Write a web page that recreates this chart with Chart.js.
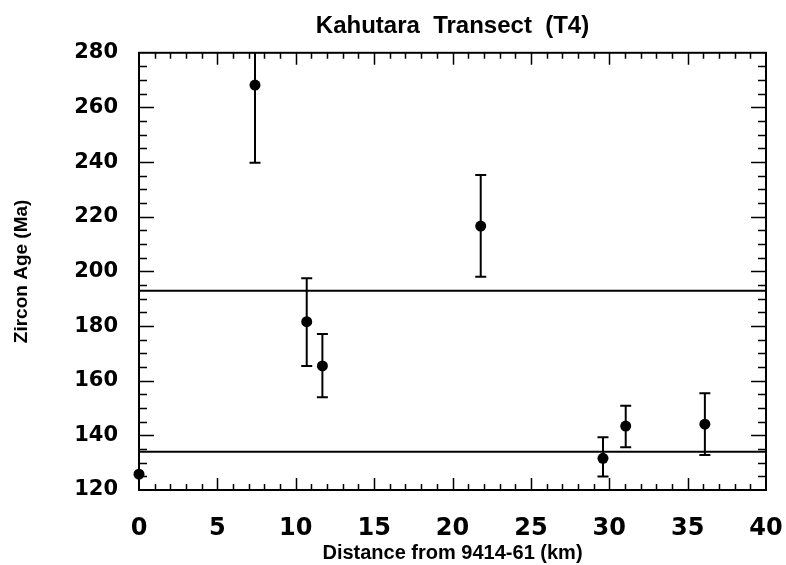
<!DOCTYPE html>
<html lang="en">
<head>
  <meta charset="UTF-8">
  <title>Kahutara Transect (T4)</title>
  <script src="https://cdn.jsdelivr.net/npm/chart.js"></script>
  <style>
    body { margin: 0; padding: 0; background: #fff; }
    #chart { display: block; }
  </style>
</head>
<body>
  <canvas id="chart" width="786" height="565"></canvas>

  <script>
    // Zircon ages along the transect
    const distance = [0, 7.4, 10.7, 11.7, 21.8, 29.6, 31.05, 36.1];
    const age      = [125.8, 268.2, 181.6, 165.4, 216.6, 131.6, 143.4, 144.1];
    const ageHigh  = [null, 296, 197.5, 177.1, 235.3, 139.3, 150.8, 155.4];
    const ageLow   = [null, 239.8, 165.4, 153.9, 198.0, 124.9, 135.6, 132.8];

    // horizontal divider lines
    const dividers = [192.9, 134.0];

    const xRange = [0, 40];
    const yRange = [120, 280];

    // error bars, clipped to the plot frame
    const errorBars = {
      id: 'errorBars',
      afterDatasetsDraw(chart) {
        const { ctx, chartArea: a, scales: { x, y } } = chart;
        ctx.save();
        ctx.beginPath();
        ctx.rect(a.left, a.top, a.right - a.left, a.bottom - a.top);
        ctx.clip();
        ctx.strokeStyle = '#000';
        ctx.lineWidth = 2;
        distance.forEach((d, i) => {
          if (ageHigh[i] == null) return;
          const px = x.getPixelForValue(d);
          const hi = y.getPixelForValue(ageHigh[i]);
          const lo = y.getPixelForValue(ageLow[i]);
          ctx.beginPath();
          ctx.moveTo(px, hi); ctx.lineTo(px, lo);
          ctx.moveTo(px - 5.5, hi); ctx.lineTo(px + 5.5, hi);
          ctx.moveTo(px - 5.5, lo); ctx.lineTo(px + 5.5, lo);
          ctx.stroke();
        });
        ctx.restore();
      }
    };

    // box frame with inward ticks on all four sides
    const frame = {
      id: 'frame',
      afterDraw(chart) {
        const { ctx, chartArea: a, scales: { x, y } } = chart;
        ctx.save();
        ctx.strokeStyle = '#000';
        ctx.lineWidth = 2;
        ctx.strokeRect(a.left, a.top, a.right - a.left, a.bottom - a.top);
        ctx.lineWidth = 1.5;
        ctx.beginPath();
        for (let v = xRange[0] + 1; v < xRange[1]; v++) {
          const px = Math.round(x.getPixelForValue(v)) + 0.5;
          const len = v % 5 === 0 ? 12 : 6;
          ctx.moveTo(px, a.bottom); ctx.lineTo(px, a.bottom - len);
          ctx.moveTo(px, a.top); ctx.lineTo(px, a.top + len);
        }
        for (let v = yRange[0] + 5; v < yRange[1]; v += 5) {
          const py = Math.round(y.getPixelForValue(v)) + 0.5;
          const len = v % 20 === 0 ? 15 : 8;
          ctx.moveTo(a.left, py); ctx.lineTo(a.left + len, py);
          ctx.moveTo(a.right, py); ctx.lineTo(a.right - len, py);
        }
        ctx.stroke();
        ctx.restore();
      }
    };

    const ctx = document.getElementById('chart').getContext('2d');
    new Chart(ctx, {
      data: {
        datasets: [
          {
            type: 'scatter',
            data: distance.map((d, i) => ({ x: d, y: age[i] })),
            backgroundColor: '#000',
            borderWidth: 0,
            pointRadius: 5.5,
            clip: false
          },
          ...dividers.map(v => ({
            type: 'line',
            data: [{ x: xRange[0], y: v }, { x: xRange[1], y: v }],
            borderColor: '#000',
            borderWidth: 2,
            pointRadius: 0
          }))
        ]
      },
      options: {
        responsive: false,
        animation: false,
        devicePixelRatio: 1,
        layout: { padding: { left: 0, right: 0, top: 0, bottom: 0 } },
        plugins: {
          legend: { display: false },
          tooltip: { enabled: false },
          title: {
            display: true,
            fullSize: false,
            text: 'Kahutara  Transect  (T4)',
            color: '#000',
            font: { family: 'Liberation Sans', size: 24, weight: 'bold' },
            padding: { top: 12, bottom: 12 }
          }
        },
        scales: {
          x: {
            type: 'linear',
            min: xRange[0],
            max: xRange[1],
            grid: { display: false },
            border: { display: false },
            ticks: {
              stepSize: 5,
              color: '#000',
              padding: 16,
              maxRotation: 0,
              font: { family: 'DejaVu Sans', size: 24, weight: 'bold' }
            },
            title: {
              display: true,
              text: 'Distance from 9414-61 (km)',
              color: '#000',
              font: { family: 'Liberation Sans', size: 20, weight: 'bold' },
              padding: { top: 0, bottom: 0 }
            },
            afterFit(scale) { scale.height = 75; scale.paddingRight = 20; }
          },
          y: {
            type: 'linear',
            min: yRange[0],
            max: yRange[1],
            grid: { display: false },
            border: { display: false },
            ticks: {
              stepSize: 20,
              color: '#000',
              padding: 13,
              font: { family: 'DejaVu Sans', size: 21, weight: 'bold' }
            },
            title: {
              display: true,
              text: 'Zircon Age (Ma)',
              color: '#000',
              font: { family: 'Liberation Sans', size: 19, weight: 'bold' },
              padding: { top: 10, bottom: 0 }
            },
            afterFit(scale) { scale.width = 139; }
          }
        }
      },
      plugins: [errorBars, frame]
    });
  </script>
</body>
</html>
